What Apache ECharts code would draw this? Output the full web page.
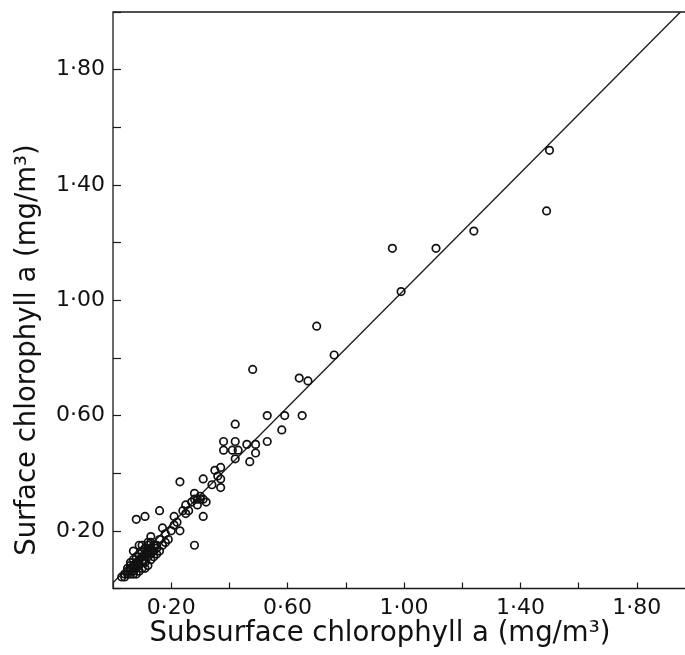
<!DOCTYPE html>
<html>
<head>
<meta charset="utf-8">
<script src="https://cdn.jsdelivr.net/npm/echarts@6/dist/echarts.min.js"></script>
<style>
html,body{margin:0;padding:0;background:#fff;overflow:hidden;}
#chart{width:685px;height:655px;}
</style>
</head>
<body>
<div id="chart"></div>
<script>
// Subsurface chlorophyll a (x) and surface chlorophyll a (y), mg/m3
var subsurface = [1.50,1.49,1.24,1.11,0.96,0.99,0.76,0.70,0.48,0.64,0.67,0.65,0.59,0.53,0.58,0.53,0.42,0.42,0.38,0.38,0.41,0.43,0.46,0.49,0.49,0.47,0.42,0.35,0.37,0.36,0.37,0.37,0.34,0.31,0.23,0.28,0.30,0.29,0.30,0.28,0.31,0.32,0.27,0.29,0.31,0.25,0.24,0.26,0.25,0.21,0.22,0.23,0.28,0.16,0.11,0.08,0.17,0.20,0.18,0.18,0.13,0.15,0.15,0.07,0.09,0.11,0.04,
0.03,0.04,0.05,0.05,0.06,0.06,0.07,0.07,0.08,0.08,0.09,0.09,0.10,0.10,0.11,0.11,0.12,0.12,0.13,0.13,0.14,0.14,0.15,0.06,0.07,0.08,0.09,0.10,0.11,0.12,0.08,0.09,0.10,0.12,0.13,0.14,0.16,0.17,0.16,0.12,0.10,0.06,0.05,0.07,0.11,0.13,0.19,0.21];
var surface = [1.52,1.31,1.24,1.18,1.18,1.03,0.81,0.91,0.76,0.73,0.72,0.60,0.60,0.60,0.55,0.51,0.57,0.51,0.51,0.48,0.48,0.48,0.50,0.50,0.47,0.44,0.45,0.41,0.42,0.39,0.38,0.35,0.36,0.38,0.37,0.33,0.32,0.31,0.31,0.31,0.31,0.30,0.30,0.29,0.25,0.29,0.27,0.27,0.26,0.25,0.23,0.20,0.15,0.27,0.25,0.24,0.21,0.20,0.19,0.16,0.18,0.15,0.12,0.13,0.15,0.07,0.05,
0.04,0.04,0.05,0.06,0.05,0.07,0.06,0.08,0.07,0.09,0.08,0.10,0.09,0.11,0.10,0.12,0.11,0.13,0.12,0.14,0.13,0.15,0.14,0.09,0.10,0.11,0.12,0.13,0.14,0.15,0.05,0.06,0.07,0.08,0.10,0.11,0.13,0.15,0.17,0.16,0.15,0.08,0.07,0.05,0.09,0.16,0.17,0.22];
// 1:1 reference line end points (as drawn)
var lineX = [0.0, 1.95];
var lineY = [0.02, 2.0];
var tickLabels = ['0·20','0·60','1·00','1·40','1·80'];
var xTitle = 'Subsurface chlorophyll a (mg/m³)';
var yTitle = 'Surface chlorophyll a (mg/m³)';

var pts = subsurface.map(function(v,i){return [v, surface[i]];});
var linePts = lineX.map(function(v,i){return [v, lineY[i]];});

function fmt(v){
  var s = (Math.round(v*100)/100).toFixed(2).replace('.','·');
  return tickLabels.indexOf(s) >= 0 ? s : '';
}

var font = 'DejaVu Sans';
var chart = echarts.init(document.getElementById('chart'), null, {renderer:'canvas'});
chart.setOption({
  backgroundColor:'#ffffff',
  animation:false,
  grid:{left:113, top:12, width:582, height:576.5, outerBoundsMode:'none', containLabel:false, show:true, borderColor:'#1a1a1a', borderWidth:1.3, backgroundColor:'transparent'},
  xAxis:{type:'value', min:0, max:2.0, interval:0.2,
    axisLine:{show:false},
    axisTick:{show:true, inside:true, length:6, lineStyle:{color:'#1a1a1a', width:1.2}},
    axisLabel:{formatter:fmt, margin:9, color:'#111', fontFamily:font, fontSize:22},
    splitLine:{show:false}},
  yAxis:{type:'value', min:0, max:2.0, interval:0.2,
    axisLine:{show:false},
    axisTick:{show:true, inside:true, length:8, lineStyle:{color:'#1a1a1a', width:1.2}},
    axisLabel:{formatter:fmt, margin:8, color:'#111', fontFamily:font, fontSize:22},
    splitLine:{show:false}},
  graphic:[
    {type:'text', x:380, y:634, style:{text:xTitle, x:0, y:0, textAlign:'center', textVerticalAlign:'middle', fill:'#111', font:'27.5px "DejaVu Sans"'}},
    {type:'text', x:28, y:350, rotation:Math.PI/2, style:{text:yTitle, x:0, y:0, textAlign:'center', textVerticalAlign:'middle', fill:'#111', font:'27.5px "DejaVu Sans"'}}
  ],
  series:[
    {type:'line', data:linePts, symbol:'none', lineStyle:{color:'#1a1a1a', width:1.3}, silent:true, z:1},
    {type:'scatter', data:pts, symbol:'circle', symbolSize:7.5,
     itemStyle:{color:'rgba(255,255,255,0)', borderColor:'#111', borderWidth:1.7, opacity:1}, z:2}
  ]
});
</script>
</body>
</html>
